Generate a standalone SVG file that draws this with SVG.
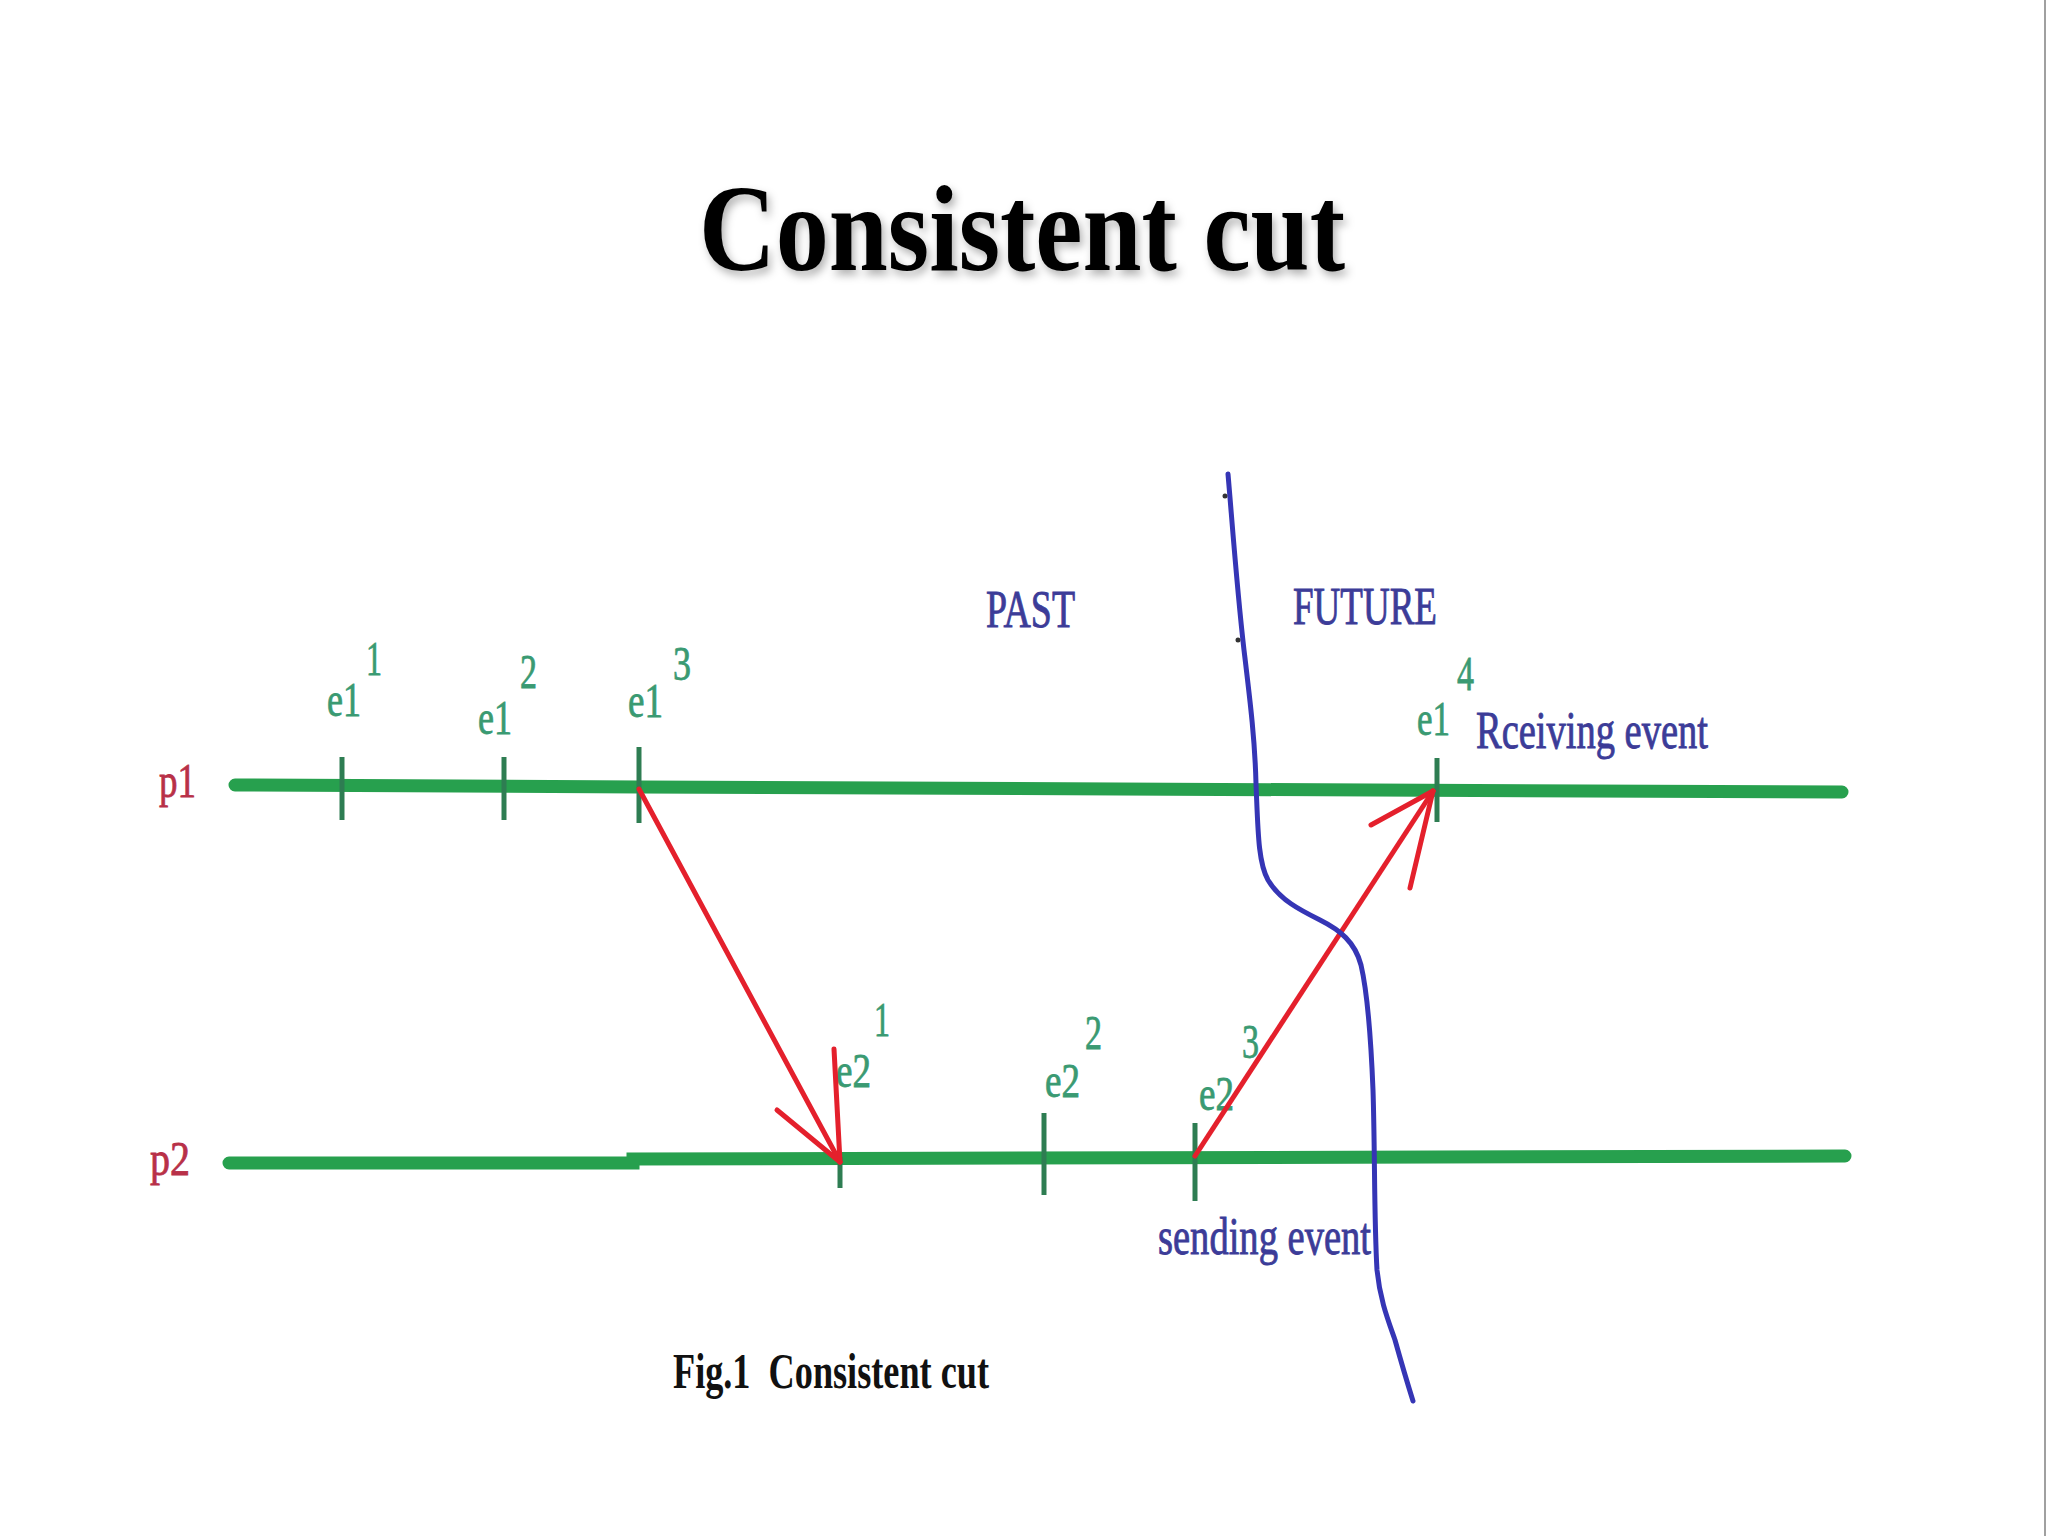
<svg xmlns="http://www.w3.org/2000/svg" width="2048" height="1536" viewBox="0 0 2048 1536">
<defs>
<style>
.proc{stroke:#27a04e;stroke-width:13;stroke-linecap:round;fill:none}
.tick{stroke:#2e7d52;stroke-width:5;fill:none}
.lab{font-family:"Liberation Serif","Times New Roman",serif;fill:#3a9a72;stroke:#3a9a72;stroke-width:0.8;font-size:48px}
.plab{font-family:"Liberation Serif","Times New Roman",serif;fill:#b83048;stroke:#b83048;stroke-width:0.8;font-size:48px}
.blue{font-family:"Liberation Serif","Times New Roman",serif;fill:#3c3c98;stroke:#3c3c98;stroke-width:0.9;font-size:52px}
.msg{stroke:#e4202c;stroke-width:5;stroke-linecap:round;fill:none}
.cut{stroke:#3535b5;stroke-width:5;stroke-linecap:round;stroke-linejoin:round;fill:none}
</style>
<filter id="sh" x="-5%" y="-10%" width="110%" height="130%">
<feDropShadow dx="3" dy="5" stdDeviation="4" flood-color="#000" flood-opacity="0.3"/>
</filter>
</defs>
<rect width="2048" height="1536" fill="#ffffff"/>
<line x1="2045" y1="0" x2="2045" y2="1536" stroke="#a0a0a0" stroke-width="2"/>
<text x="699" y="270" font-family="Liberation Serif,'Times New Roman',serif" font-weight="bold" font-size="122" textLength="646" lengthAdjust="spacingAndGlyphs" fill="#000" filter="url(#sh)">Consistent cut</text>

<g id="p1">
<text class="plab" x="159" y="797" textLength="37" lengthAdjust="spacingAndGlyphs">p1</text>
<polyline class="proc" points="235,785 640,787 1842,792"/>
</g>
<g id="p2">
<text class="plab" x="150" y="1175" textLength="40" lengthAdjust="spacingAndGlyphs">p2</text>
<polyline class="proc" points="229,1163 633,1163 633,1159 1437,1157 1845,1156"/>
</g>

<g id="e1_1">
<line class="tick" x1="342" y1="757" x2="342" y2="820"/>
<text class="lab" x="327" y="716" textLength="34" lengthAdjust="spacingAndGlyphs">e1</text>
<text class="lab" x="366" y="675" textLength="16" lengthAdjust="spacingAndGlyphs">1</text>
</g>
<g id="e1_2">
<line class="tick" x1="504" y1="757" x2="504" y2="820"/>
<text class="lab" x="478" y="734" textLength="34" lengthAdjust="spacingAndGlyphs">e1</text>
<text class="lab" x="520" y="688" textLength="17" lengthAdjust="spacingAndGlyphs">2</text>
</g>
<g id="e1_3">
<line class="tick" x1="639" y1="747" x2="639" y2="823"/>
<text class="lab" x="628" y="717" textLength="35" lengthAdjust="spacingAndGlyphs">e1</text>
<text class="lab" x="673" y="680" textLength="18" lengthAdjust="spacingAndGlyphs">3</text>
</g>
<g id="e1_4">
<line class="tick" x1="1437" y1="758" x2="1437" y2="822"/>
<text class="lab" x="1417" y="735" textLength="33" lengthAdjust="spacingAndGlyphs">e1</text>
<text class="lab" x="1457" y="690" textLength="17" lengthAdjust="spacingAndGlyphs">4</text>
<text class="blue" x="1476" y="748" textLength="232" lengthAdjust="spacingAndGlyphs">Rceiving event</text>
</g>
<g id="e2_1">
<line class="tick" x1="840" y1="1157" x2="840" y2="1188"/>
<text class="lab" x="836" y="1087" textLength="35" lengthAdjust="spacingAndGlyphs">e2</text>
<text class="lab" x="874" y="1036" textLength="16" lengthAdjust="spacingAndGlyphs">1</text>
</g>
<g id="e2_2">
<line class="tick" x1="1044" y1="1113" x2="1044" y2="1195"/>
<text class="lab" x="1045" y="1097" textLength="35" lengthAdjust="spacingAndGlyphs">e2</text>
<text class="lab" x="1085" y="1049" textLength="17" lengthAdjust="spacingAndGlyphs">2</text>
</g>
<g id="e2_3">
<line class="tick" x1="1195" y1="1123" x2="1195" y2="1201"/>
<text class="lab" x="1199" y="1110" textLength="35" lengthAdjust="spacingAndGlyphs">e2</text>
<text class="lab" x="1242" y="1058" textLength="17" lengthAdjust="spacingAndGlyphs">3</text>
<text class="blue" x="1158" y="1254" textLength="213" lengthAdjust="spacingAndGlyphs">sending event</text>
</g>

<g id="regions">
<text class="blue" x="986" y="627" textLength="89" lengthAdjust="spacingAndGlyphs">PAST</text>
<text class="blue" x="1293" y="624" textLength="144" lengthAdjust="spacingAndGlyphs">FUTURE</text>
</g>

<g id="connectors">
<line class="msg" x1="639" y1="789" x2="840" y2="1162"/>
<line class="msg" x1="840" y1="1162" x2="777" y2="1110"/>
<line class="msg" x1="840" y1="1162" x2="834" y2="1049"/>
<line class="msg" x1="1195" y1="1156" x2="1433" y2="791"/>
<line class="msg" x1="1433" y1="791" x2="1371" y2="825"/>
<line class="msg" x1="1433" y1="791" x2="1410" y2="888"/>
</g>

<g id="cut">
<path class="cut" d="M1228,474 C1232,520 1237,590 1244,650 C1250,700 1255,740 1256,784 C1258,830 1258,862 1268,880 C1280,900 1300,910 1320,920 C1340,930 1355,942 1361,965 C1368,995 1371,1040 1373,1090 C1375,1150 1374,1220 1377,1270 C1380,1300 1388,1320 1395,1340 C1402,1365 1408,1385 1413,1401"/>
<circle cx="1225" cy="496" r="2.5" fill="#333"/>
<circle cx="1238" cy="640" r="2.5" fill="#333"/>
</g>

<text x="673" y="1388" font-family="Liberation Serif,'Times New Roman',serif" font-weight="bold" font-size="50" textLength="316" lengthAdjust="spacingAndGlyphs" fill="#111" xml:space="preserve">Fig.1  Consistent cut</text>
</svg>
